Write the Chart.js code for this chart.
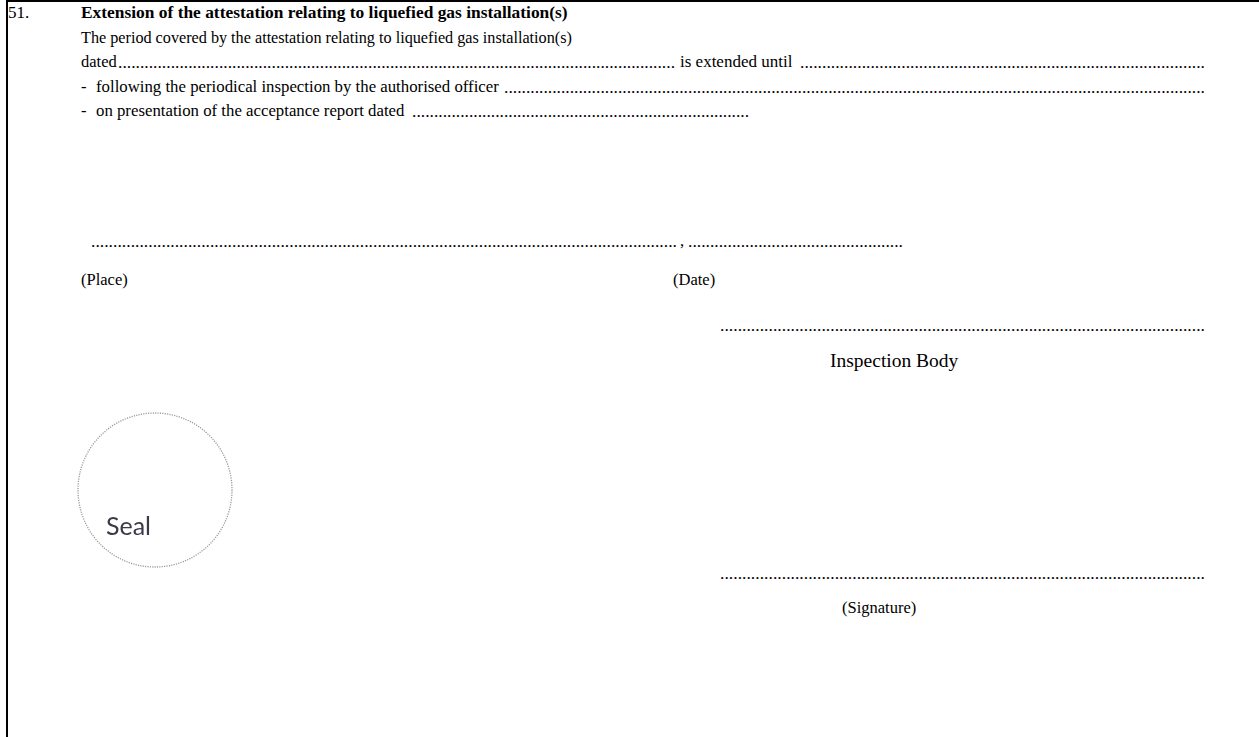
<!DOCTYPE html>
<html>
<head>
<meta charset="utf-8">
<script src="https://cdn.jsdelivr.net/npm/chart.js"></script>
<style>
  html, body { margin: 0; padding: 0; background: #fff; }
  body { width: 1259px; height: 737px; overflow: hidden; position: relative;
         font-family: "Liberation Serif", "Times New Roman", serif; font-size: 16px; color: #000; }
  .frame { position: absolute; left: 6px; top: 0; width: 1400px; height: 900px;
           border-left: 2px solid #000; border-top: 2px solid #000; }
  .t { position: absolute; white-space: nowrap; line-height: 24px; height: 24px; }
  .b { font-weight: bold; }
  #sealBox { position: absolute; left: 70px; top: 405px; width: 170px; height: 170px; }
  .seal { position: absolute; white-space: nowrap; font-family: "Lato", "Open Sans", sans-serif;
          color: #3a3a48; line-height: 30px; height: 30px; }
</style>
</head>
<body>
<div class="frame"></div>
<div id="sealBox"><canvas id="js--seal"></canvas></div>
<script>
// seal stamp: one point, drawn through the chart's own scales
const sealLabels = ['Seal'];
const sealX = [0];
const sealY = [0];

// form text: [text, left, baseline, font size, bold, dots run to (0 = none), gap before dots]
const formText = [
  ['51.', 8, 19, 17, false, 0, 0],
  ['Extension of the attestation relating to liquefied gas installation(s)', 81, 18, 17.4, true, 0, 0],
  ['The period covered by the attestation relating to liquefied gas installation(s)', 81, 43, 16.2, false, 0, 0],
  ['dated', 81, 68, 16.5, false, 675, 1],
  ['is extended until', 680, 68, 17, false, 1205, 8],
  ['-', 81, 93, 16.5, false, 0, 0],
  ['following the periodical inspection by the authorised officer', 96, 93, 16.8, false, 1205, 5],
  ['-', 81, 117, 16.5, false, 0, 0],
  ['on presentation of the acceptance report dated', 96, 117, 16.8, false, 749, 8],
  [',', 680, 247, 16.5, false, 0, 0],
  ['(Place)', 81, 286, 16.5, false, 0, 0],
  ['(Date)', 673, 286, 16.5, false, 0, 0],
  ['Inspection Body', 830, 368, 19.5, false, 0, 0],
  ['(Signature)', 842, 614, 16.5, false, 0, 0]
];

// free dotted fill-in lines: [left, right, baseline]
const dotLines = [
  [91, 677, 247],
  [688, 903, 247],
  [720, 1205, 331],
  [720, 1205, 579]
];

function topFor(baseline, fs) {
  // baseline offset inside a 24px line box for Liberation Serif
  return (baseline - 12 - 0.3375 * fs).toFixed(1) + 'px';
}

function putDots(left, right, baseline) {
  const fs = 17.5;
  const el = document.createElement('div');
  el.className = 't';
  el.style.fontSize = fs + 'px';
  el.textContent = '.';
  document.body.appendChild(el);
  const dw = el.getBoundingClientRect().width;
  const n = Math.floor((right - left) / dw);
  const extra = ((right - left) - n * dw) / n;
  el.textContent = '.'.repeat(n);
  el.style.letterSpacing = extra.toFixed(3) + 'px';
  el.style.left = left + 'px';
  el.style.top = topFor(baseline, fs);
}

formText.forEach(function (row) {
  const el = document.createElement('div');
  el.className = 't' + (row[4] ? ' b' : '');
  el.textContent = row[0];
  el.style.fontSize = row[3] + 'px';
  el.style.left = row[1] + 'px';
  el.style.top = topFor(row[2], row[3]);
  document.body.appendChild(el);
  if (row[5] > 0) {
    const end = row[1] + el.getBoundingClientRect().width;
    putDots(Math.round(end + row[6]), row[5], row[2]);
  }
});

dotLines.forEach(function (row) {
  putDots(row[0], row[1], row[2]);
});

// "Seal" caption inside the stamp
const sealText = document.createElement('div');
sealText.className = 'seal';
sealText.style.fontSize = '25px';
sealText.textContent = sealLabels[0];
sealText.style.left = '106px';
sealText.style.top = '510px';
document.body.appendChild(sealText);

// dotted ring used as the point style
const ring = document.createElement('canvas');
ring.width = 158;
ring.height = 158;
const rc = ring.getContext('2d');
rc.strokeStyle = '#9a9a9a';
rc.lineWidth = 1.3;
rc.setLineDash([1.2, 1.2]);
rc.beginPath();
rc.arc(79, 79, 77, 0, Math.PI * 2);
rc.stroke();

const sealData = {
  labels: sealLabels,
  datasets: [{
    label: sealLabels[0],
    data: sealX.map(function (x, i) { return { x: x, y: sealY[i] }; }),
    pointStyle: ring,
    pointRadius: 79,
    pointHoverRadius: 79,
    clip: false
  }]
};

const sealConfig = {
  type: 'scatter',
  data: sealData,
  options: {
    responsive: true,
    maintainAspectRatio: false,
    animation: false,
    events: [],
    layout: { padding: 0 },
    plugins: { legend: { display: false }, tooltip: { enabled: false } },
    scales: {
      x: { display: false, min: -1, max: 1 },
      y: { display: false, min: -1, max: 1 }
    }
  }
};

const sealChart = new Chart(document.getElementById('js--seal'), sealConfig);
</script>
</body>
</html>
